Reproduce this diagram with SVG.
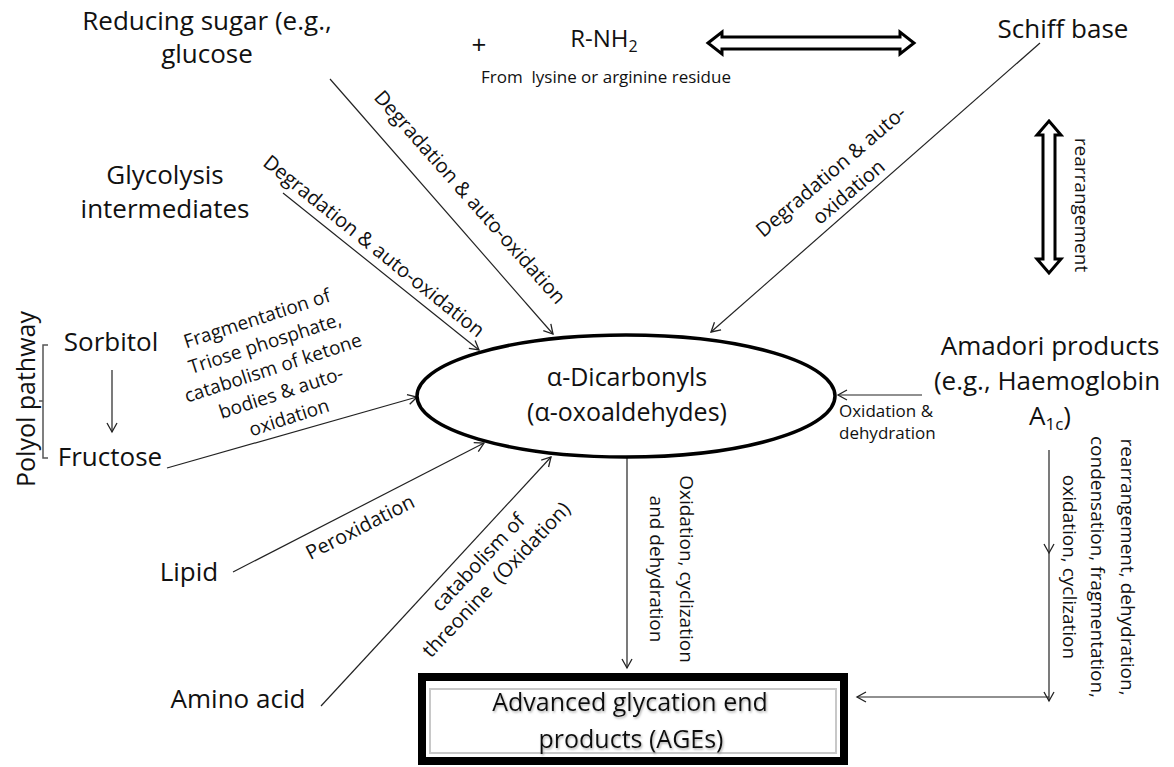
<svg xmlns="http://www.w3.org/2000/svg" width="1174" height="767" viewBox="0 0 1174 767">
<defs>
<style>
text{font-family:"Open Sans","Liberation Sans",sans-serif;fill:#111}
.big{font-size:26px}
.mid{font-size:20px}
.sm{font-size:17px}
.c{text-anchor:middle}
.ln{stroke:#222;stroke-width:1.2;fill:none}
.dbl{fill:#fff;stroke:#000;stroke-width:3;stroke-linejoin:miter}
</style>
<marker id="ah" markerUnits="userSpaceOnUse" markerWidth="14" markerHeight="14" refX="11" refY="7" orient="auto">
<path d="M2,2 L11,7 L2,12" fill="none" stroke="#222" stroke-width="1.3"/>
</marker>
<filter id="sh" x="-10%" y="-30%" width="120%" height="160%">
<feDropShadow dx="1" dy="1.5" stdDeviation="1.2" flood-color="#777" flood-opacity="0.6"/>
</filter>
</defs>
<rect width="1174" height="767" fill="#fff"/>

<g id="connectors">
<line class="ln" x1="330" y1="79" x2="553" y2="334" marker-end="url(#ah)"/>
<line class="ln" x1="283" y1="193" x2="479" y2="350" marker-end="url(#ah)"/>
<line class="ln" x1="167" y1="468" x2="417" y2="397" marker-end="url(#ah)"/>
<line class="ln" x1="233" y1="572" x2="484" y2="443" marker-end="url(#ah)"/>
<line class="ln" x1="321" y1="706" x2="551" y2="457" marker-end="url(#ah)"/>
<line class="ln" x1="1040" y1="43" x2="711" y2="332" marker-end="url(#ah)"/>
<line class="ln" x1="627" y1="457" x2="627" y2="668" marker-end="url(#ah)"/>
<line class="ln" x1="922" y1="395" x2="838" y2="395" marker-end="url(#ah)"/>
<line class="ln" x1="112" y1="370" x2="112" y2="432" marker-end="url(#ah)"/>
<line class="ln" x1="1049" y1="450" x2="1049" y2="553" marker-end="url(#ah)"/>
<line class="ln" x1="1049" y1="553" x2="1049" y2="701" marker-end="url(#ah)"/>
<line class="ln" x1="1049" y1="697" x2="857" y2="697" marker-end="url(#ah)"/>
<polygon class="dbl" points="708,43 722,32 722,37 900,37 900,32 914,43 900,54 900,49 722,49 722,54"/>
<polygon class="dbl" points="1049,121 1061,135 1055,135 1055,259 1061,259 1049,273 1037,259 1043,259 1043,135 1037,135"/>
<path d="M48,345 H43 V458 H48 M43,401 H39" fill="none" stroke="#555" stroke-width="1.5"/>
</g>

<g id="edge-labels">
<text class="mid c" transform="translate(470,197) rotate(48.5)" y="7">Degradation &amp; auto-oxidation</text>
<text class="mid c" transform="translate(374,246) rotate(38.8)" y="7">Degradation &amp; auto-oxidation</text>
<g transform="translate(840,182) rotate(-40.5)">
<text class="mid c" y="-7">Degradation &amp; auto-</text>
<text class="mid c" y="20">oxidation</text>
</g>
<text class="c" transform="translate(1075,205) rotate(90)" style="font-size:19px">rearrangement</text>
<g transform="translate(273,368) rotate(-18)" style="font-size:19px">
<text class="c" y="-45.5">Fragmentation of</text>
<text class="c" y="-19.5">Triose phosphate,</text>
<text class="c" y="6.5">catabolism of ketone</text>
<text class="c" y="32.5">bodies &amp; auto-</text>
<text class="c" y="58.5">oxidation</text>
</g>
<text class="mid c" transform="translate(360,527) rotate(-27)" y="7">Peroxidation</text>
<g transform="translate(487,571) rotate(-46.6)">
<text class="mid c" y="-5.5">catabolism of</text>
<text class="mid c" y="19.5" xml:space="preserve">threonine  (Oxidation)</text>
</g>
<g transform="translate(665,569) rotate(90)" style="font-size:19px">
<text class="c" y="-15">Oxidation, cyclization</text>
<text class="c" y="15">and dehydration</text>
</g>
<text class="sm" x="839" y="417">Oxidation &amp;</text>
<text class="sm" x="839" y="439">dehydration</text>
<g transform="translate(1100,567) rotate(90)" style="font-size:19px">
<text class="c" y="-21">rearrangement, dehydration,</text>
<text class="c" y="9">condensation, fragmentation,</text>
<text class="c" y="37">oxidation, cyclization</text>
</g>
</g>

<g id="reducing-sugar">
<text class="big c" x="207" y="30">Reducing sugar (e.g.,</text>
<text class="big c" x="207" y="63">glucose</text>
</g>
<g id="plus"><text class="c" x="479" y="54" style="font-size:26px">+</text></g>
<g id="rnh2">
<text class="c" x="604" y="47" style="font-size:24px">R-NH<tspan style="font-size:16px" dy="5">2</tspan></text>
<text class="c" x="606" y="83" style="font-size:17px" xml:space="preserve">From  lysine or arginine residue</text>
</g>
<g id="schiff-base"><text class="big c" x="1063" y="38">Schiff base</text></g>
<g id="glycolysis">
<text class="big c" x="165" y="184">Glycolysis</text>
<text class="big c" x="165" y="218">intermediates</text>
</g>
<g id="polyol">
<text class="c" transform="translate(35,399) rotate(-90)" style="font-size:25px">Polyol pathway</text>
</g>
<g id="sorbitol"><text class="big c" x="111" y="351">Sorbitol</text></g>
<g id="fructose"><text class="big c" x="110" y="466">Fructose</text></g>
<g id="lipid"><text class="big c" x="189" y="581">Lipid</text></g>
<g id="amino-acid"><text class="big c" x="238" y="708">Amino acid</text></g>
<g id="dicarbonyls">
<ellipse cx="626" cy="396" rx="209" ry="61" fill="#fff" stroke="#000" stroke-width="3.5"/>
<text class="c" x="627" y="386" style="font-size:25px">α-Dicarbonyls</text>
<text class="c" x="627" y="421" style="font-size:25px">(α-oxoaldehydes)</text>
</g>
<g id="amadori">
<text class="big c" x="1050" y="355">Amadori products</text>
<text class="big c" x="1047" y="390">(e.g., Haemoglobin</text>
<text class="big c" x="1050" y="425">A<tspan style="font-size:17px" dy="5">1c</tspan><tspan dy="-5">)</tspan></text>
</g>
<g id="ages">
<rect x="422" y="677" width="422" height="84" fill="#fff" stroke="#000" stroke-width="8"/>
<rect x="430" y="689" width="406" height="64" fill="none" stroke="#c8c8c8" stroke-width="2"/>
<g filter="url(#sh)">
<text class="c" x="630" y="711" style="font-size:25px">Advanced glycation end</text>
<text class="c" x="631" y="748" style="font-size:25px">products (AGEs)</text>
</g>
</g>
</svg>
